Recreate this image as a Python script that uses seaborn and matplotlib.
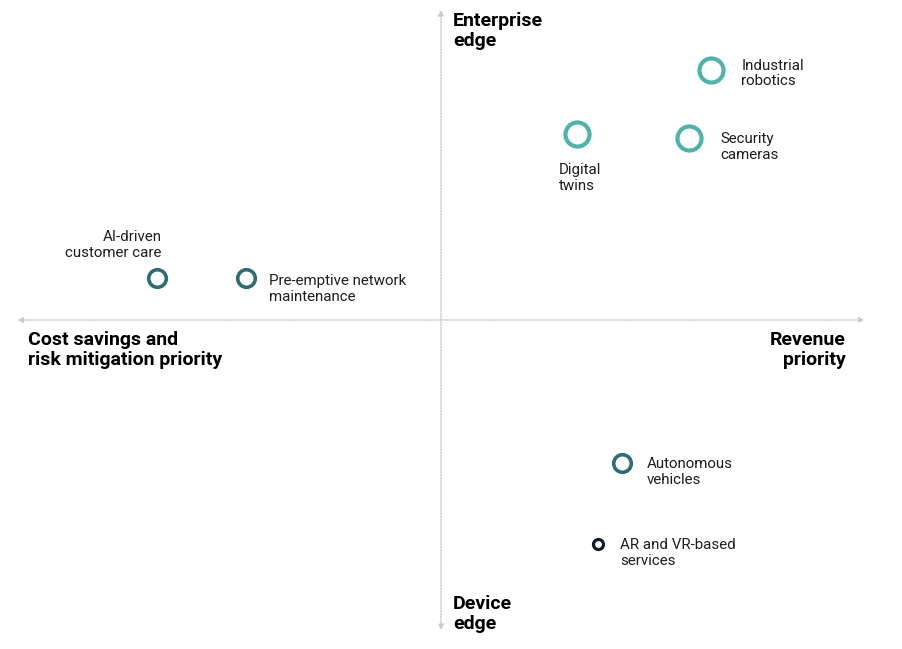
import matplotlib.pyplot as plt
import seaborn as sns
import pandas as pd

# positions on a -10..10 grid (x: cost savings -> revenue, y: device -> enterprise edge)
labels = ["Industrial\nrobotics", "Security\ncameras", "Digital\ntwins",
          "AI-driven\ncustomer care", "Pre-emptive network\nmaintenance",
          "Autonomous\nvehicles", "AR and VR-based\nservices"]
x_vals = [6.38, 5.86, 3.21, -6.71, -4.60, 4.27, 3.71]
y_vals = [8.06, 5.87, 6.00, 1.35, 1.35, -4.61, -7.23]
groups = ["large", "large", "large", "medium", "medium", "medium", "small"]

df = pd.DataFrame({"label": labels, "x": x_vals, "y": y_vals, "group": groups})

palette = {"large": "#4fb3aa", "medium": "#2f6c74", "small": "#0e1a2c"}
sizes = {"large": 300, "medium": 160, "small": 52}
widths = {"large": 3.0, "medium": 2.6, "small": 2.3}

# label offsets in points (dx, dy, ha)
offsets = {
    "Industrial\nrobotics": (21.6, -2.5, "left"),
    "Security\ncameras": (22.3, -6.5, "left"),
    "Digital\ntwins": (-13.0, -32.0, "left"),
    "AI-driven\ncustomer care": (3.6, 23.8, "right"),
    "Pre-emptive network\nmaintenance": (16.6, -7.6, "left"),
    "Autonomous\nvehicles": (18.0, -6.5, "left"),
    "AR and VR-based\nservices": (15.8, -6.5, "left"),
}

sns.set_style("white")
plt.rcParams["font.family"] = ["Roboto", "DejaVu Sans"]

fig = plt.figure(figsize=(9.03, 6.49), dpi=100)
ax = fig.add_axes([0, 0, 1, 1])

# quadrant axes with arrow heads
axis_style = dict(arrowstyle="<|-|>", color="#c9c9c9", lw=1.0, linestyle=(0, (1, 1)),
                  mutation_scale=8, shrinkA=0, shrinkB=0)
ax.annotate("", xy=(10, 0), xytext=(-10, 0), arrowprops=axis_style)
ax.annotate("", xy=(0, 10), xytext=(0, -10), arrowprops=axis_style)

for g in ["large", "medium", "small"]:
    sub = df[df["group"] == g]
    sns.scatterplot(data=sub, x="x", y="y", ax=ax, s=sizes[g], marker="o",
                    facecolor="white", edgecolor=palette[g], linewidth=widths[g],
                    legend=False, zorder=3)

for _, row in df.iterrows():
    dx, dy, ha = offsets[row["label"]]
    ax.annotate(row["label"], (row["x"], row["y"]), xytext=(dx, dy),
                textcoords="offset points", ha=ha, va="center",
                fontsize=10.9, color="#1e1e1e", linespacing=1.17)

bold = dict(fontsize=14, fontweight="bold", color="#000000", linespacing=1.1)
ax.text(0.28, 9.92, "Enterprise\nedge", ha="left", va="top", **bold)
ax.text(0.28, -8.88, "Device\nedge", ha="left", va="top", **bold)
ax.text(-9.76, -0.36, "Cost savings and\nrisk mitigation priority", ha="left", va="top", **bold)
ax.text(9.56, -0.36, "Revenue\npriority", ha="right", va="top", **bold)

ax.set_xlim(-10.413, 10.909)
ax.set_ylim(-10.61, 10.32)
ax.axis("off")

fig.savefig("out.png", dpi=100, facecolor="white")
